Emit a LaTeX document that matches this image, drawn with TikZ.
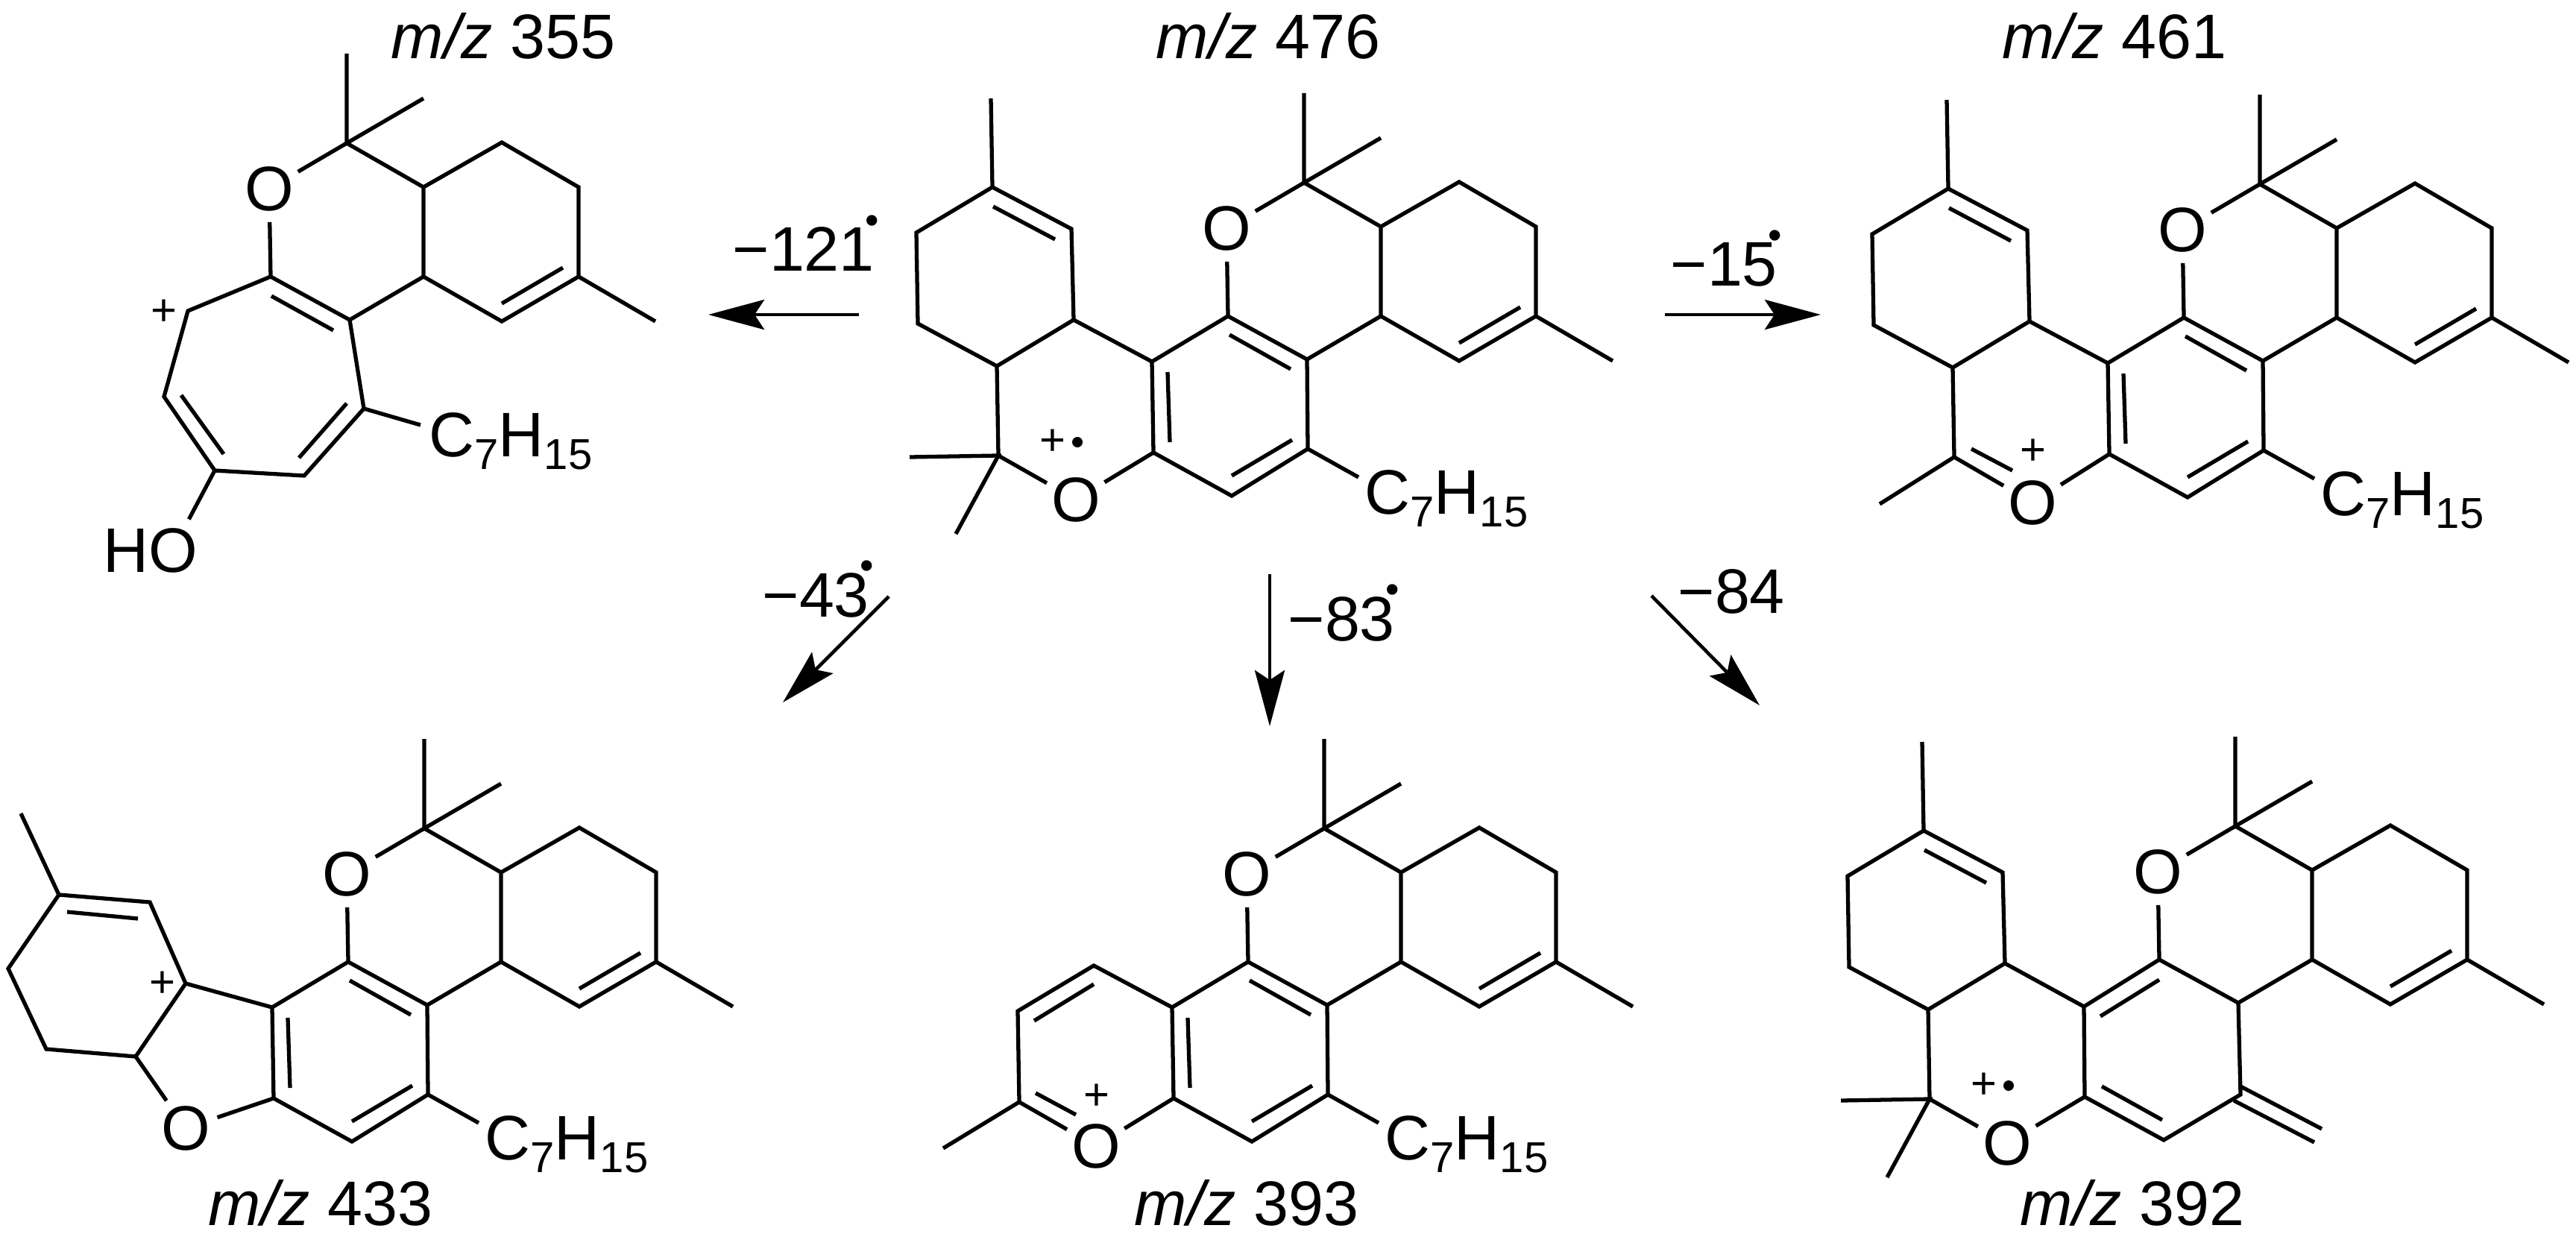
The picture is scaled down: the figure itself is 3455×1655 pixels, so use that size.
\documentclass[tikz,border=0pt]{standalone}
\usepackage{fontspec}
\setmainfont{Liberation Sans}
\usetikzlibrary{arrows.meta}

\newcommand{\labelsize}{\fontsize{24}{28}\selectfont}
\newcommand{\chargesize}{\fontsize{17}{20}\selectfont}
\newcommand{\chainsub}[1]{\raisebox{-5pt}{\fontsize{16.5}{18}\selectfont #1}}
\newcommand{\lossdot}{\kern-3.5pt\raisebox{14.5pt}{\fontsize{15}{15}\selectfont •}}

\tikzset{
  bond/.style={line width=1.5pt},
  atom/.style={circle, inner sep=0pt, minimum size=0.86cm, font=\labelsize},
  group/.style={inner sep=0pt, font=\labelsize},
  charge/.style={inner sep=0pt, font=\chargesize},
  spot/.style={circle, fill=black, inner sep=0pt, minimum size=0.14cm},
  rxn/.style={line width=1.3pt, -{Stealth[length=0.75cm, width=0.4cm, inset=0.13cm]}},
  mass/.style={inner sep=0pt, anchor=base, font=\labelsize},
  loss/.style={inner sep=0pt, anchor=base west, font=\labelsize}
}

% O, gem-dimethyl and the methylcyclohexene on the right
\newcommand{\pyranpart}{
  \coordinate (Q) at (0,0);
  \coordinate (A) at (-102,179);
  \coordinate (B) at (4,237);
  \coordinate (C) at (103,179);
  \coordinate (D) at (103,59);
  \coordinate (E) at (208,-1);
  \coordinate (F) at (311,59);
  \coordinate (G) at (311,179);
  \coordinate (H) at (208,239);
  \coordinate (Qa) at (0,-120);
  \coordinate (Qb) at (103,-60);
  \coordinate (Ga) at (414,239);
  \node[atom] (Ox) at (-104,61) {O};
  \draw[bond] (Qa) -- (Q) -- (Qb);
  \draw[bond] (Ox) -- (Q) -- (D) -- (E) -- (F) -- (G) -- (H) -- (C) -- (D);
  \draw[bond] (G) -- (Ga);
  \draw[bond] (Ox) -- (A) -- (B) -- (C);
  \draw[bond] (208,215) -- (290,167);
}

% aromatic ring with the side chain
\newcommand{\benzenepart}{
  \coordinate (I) at (5,357);
  \coordinate (J) at (-97,420);
  \coordinate (K) at (-202,362);
  \coordinate (L) at (-204,240);
  \coordinate (Ia) at (73,395);
  \node[group, anchor=base west] (chain) at (81,444) {C\chainsub{7}H\chainsub{15}};
  \draw[bond] (A) -- (L) -- (K) -- (J) -- (I) -- (B);
  \draw[bond] (I) -- (Ia);
  \draw[bond] (-100,204) -- (-18,250);
  \draw[bond] (-183,254) -- (-180,348);
  \draw[bond] (-97,393) -- (-16,345);
}

% methylcyclohexene on the left
\newcommand{\ringpart}{
  \coordinate (P) at (-309,184);
  \coordinate (S) at (-312,62);
  \coordinate (T) at (-418,6);
  \coordinate (Ta) at (-420,-113);
  \coordinate (U) at (-520,67);
  \coordinate (V) at (-518,189);
  \coordinate (W) at (-412,246);
  \coordinate (X) at (-410,366);
  \draw[bond] (L) -- (P) -- (S) -- (T) -- (U) -- (V) -- (W) -- (X);
  \draw[bond] (W) -- (P);
  \draw[bond] (T) -- (Ta);
  \draw[bond] (-417,32) -- (-334,76);
}

% second ring O carrying the gem-dimethyl and the radical cation
\newcommand{\cationpart}{
  \coordinate (Xa) at (-529,368);
  \coordinate (Xb) at (-467,471);
  \node[atom] (Oy) at (-306,425) {O};
  \node[charge] (plus) at (-337,348) {+};
  \node[spot] (dot) at (-304,348) {};
  \draw[bond] (Xa) -- (X) -- (Xb);
  \draw[bond] (X) -- (Oy) -- (K);
}

\begin{document}
\begin{tikzpicture}[x=0.01cm, y=-0.01cm]
    \useasboundingbox (0,0) rectangle (3455,1655);

    % m/z 355
    \begin{scope}[shift={(465,192)}, name prefix=a-]
      \pyranpart
      \coordinate (I) at (23,356);
      \coordinate (J) at (-57,446);
      \coordinate (K) at (-177,439);
      \coordinate (L) at (-245,340);
      \coordinate (M) at (-213,225);
      \coordinate (Ia) at (99,378);
      \node[group, anchor=base west] (chain) at (110,420) {C\chainsub{7}H\chainsub{15}};
      \node[group, inner sep=0.11cm] (hydroxy) at (-263,546) {HO};
      \node[charge] (plus) at (-245,227) {+};
      \draw[bond] (A) -- (M) -- (L) -- (K) -- (J) -- (I) -- (B);
      \draw[bond] (I) -- (Ia);
      \draw[bond] (K) -- (hydroxy.39);
      \draw[bond] (-101,205) -- (-18,251);
      \draw[bond] (0,349) -- (-64,422);
      \draw[bond] (-165,417) -- (-222,338);
    \end{scope}

    % m/z 476
    \begin{scope}[shift={(1749,245)}, name prefix=b-]
      \pyranpart
      \benzenepart
      \ringpart
      \cationpart
    \end{scope}

    % m/z 461
    \begin{scope}[shift={(3031,247)}, name prefix=c-]
      \pyranpart
      \benzenepart
      \ringpart
      \coordinate (Xa) at (-510,429);
      \node[atom] (Oy) at (-305,427) {O};
      \node[charge] (plus) at (-304,359) {+};
      \draw[bond] (Xa) -- (X) -- (Oy) -- (K);
      \draw[bond] (-387,355) -- (-332,384);
    \end{scope}

    % m/z 433
    \begin{scope}[shift={(569,1111)}, name prefix=d-]
      \pyranpart
      \benzenepart
      \coordinate (P) at (-320,208);
      \coordinate (S) at (-368,99);
      \coordinate (T) at (-490,89);
      \coordinate (Ta) at (-541,-20);
      \coordinate (U) at (-558,188);
      \coordinate (V) at (-507,296);
      \coordinate (W) at (-387,306);
      \node[atom] (Oy) at (-320,402) {O};
      \node[charge] (plus) at (-351,209) {+};
      \draw[bond] (L) -- (P) -- (S) -- (T) -- (U) -- (V) -- (W) -- (P);
      \draw[bond] (T) -- (Ta);
      \draw[bond] (W) -- (Oy) -- (K);
      \draw[bond] (-479,112) -- (-384,121);
    \end{scope}

    % m/z 393
    \begin{scope}[shift={(1776,1111)}, name prefix=e-]
      \pyranpart
      \benzenepart
      \coordinate (P) at (-309,184);
      \coordinate (W) at (-411,245);
      \coordinate (X) at (-409,367);
      \coordinate (Xa) at (-511,429);
      \node[atom] (Oy) at (-306,426) {O};
      \node[charge] (plus) at (-305,360) {+};
      \draw[bond] (L) -- (P) -- (W) -- (X) -- (Oy) -- (K);
      \draw[bond] (X) -- (Xa);
      \draw[bond] (-309,209) -- (-389,258);
      \draw[bond] (-387,355) -- (-333,384);
    \end{scope}

    % m/z 392
    \begin{scope}[shift={(2998,1108)}, name prefix=f-]
      \pyranpart
      \coordinate (I) at (7,360);
      \coordinate (J) at (-96,421);
      \coordinate (K) at (-202,363);
      \coordinate (L) at (-203,242);
      \draw[bond] (A) -- (L) -- (K) -- (J) -- (I) -- (B);
      \draw[bond] (-181,255) -- (-102,206);
      \draw[bond] (-179,349) -- (-98,394);
      \draw[bond] (7,349) -- (116,406);
      \draw[bond] (-2,368) -- (106,424);
      \ringpart
      \cationpart
    \end{scope}

    % m/z labels
    \node[mass] (m355) at (675,79) {\textit{m/z} 355};
    \node[mass] (m476) at (1701,79) {\textit{m/z} 476};
    \node[mass] (m461) at (2836,79) {\textit{m/z} 461};
    \node[mass] (m433) at (430,1643) {\textit{m/z} 433};
    \node[mass] (m393) at (1672,1643) {\textit{m/z} 393};
    \node[mass] (m392) at (2860,1643) {\textit{m/z} 392};

    % arrow ends
    \coordinate (s121) at (1152,422);
    \coordinate (e121) at (950,422);
    \coordinate (s15) at (2233,422);
    \coordinate (e15) at (2442,422);
    \coordinate (s43) at (1192,800);
    \coordinate (e43) at (1050,942);
    \coordinate (s83) at (1703,770);
    \coordinate (e83) at (1703,974);
    \coordinate (s84) at (2215,799);
    \coordinate (e84) at (2360,946);

    % arrows
    \draw[rxn] (s121) -- (e121);
    \draw[rxn] (s15) -- (e15);
    \draw[rxn] (s43) -- (e43);
    \draw[rxn] (s83) -- (e83);
    \draw[rxn] (s84) -- (e84);

    % losses
    \node[loss] (l121) at (982,364) {−121\lossdot};
    \node[loss] (l15) at (2240,384) {−15\lossdot};
    \node[loss] (l43) at (1022,827) {−43\lossdot};
    \node[loss] (l83) at (1727,859) {−83\lossdot};
    \node[loss] (l84) at (2250,822) {−84};
\end{tikzpicture}
\end{document}
